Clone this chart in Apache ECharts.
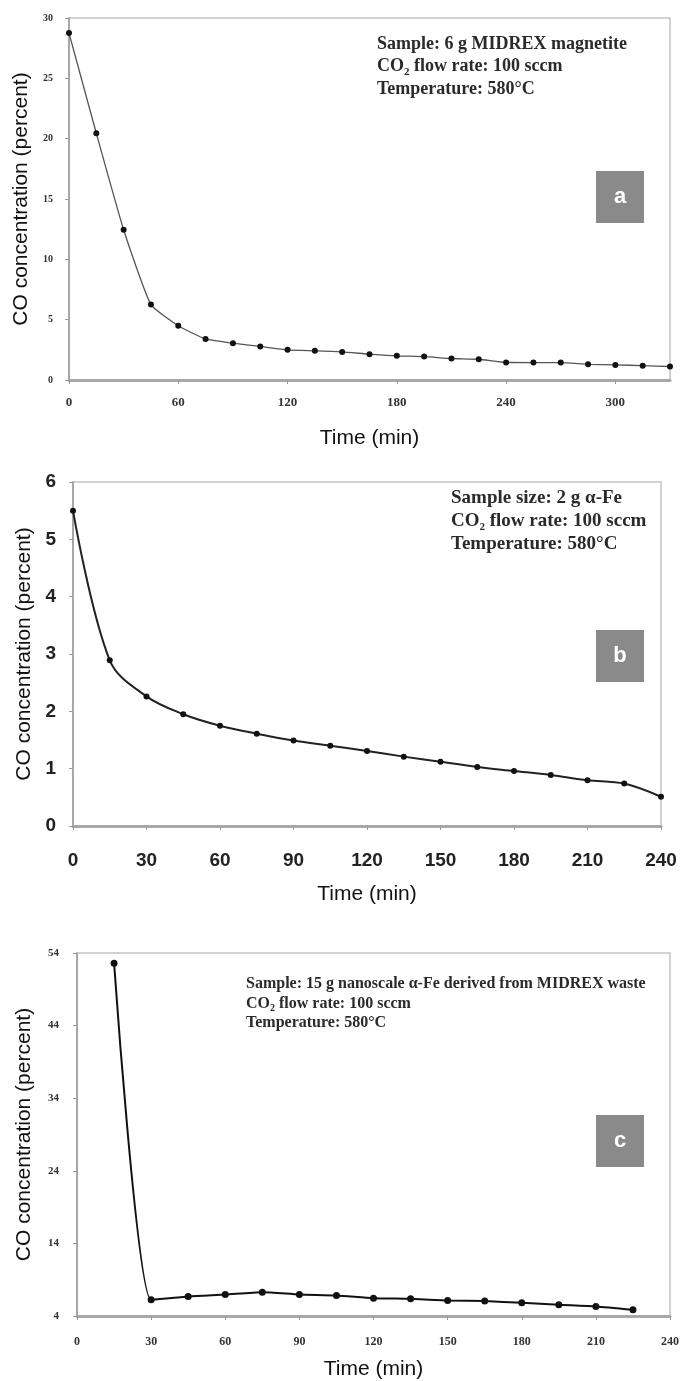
<!DOCTYPE html>
<html>
<head>
<meta charset="utf-8">
<title>CO concentration vs time</title>
<script src="https://cdn.jsdelivr.net/npm/echarts@6/dist/echarts.min.js"></script>
<style>
  html, body { margin: 0; padding: 0; background: #fff; }
  #chart { width: 684px; height: 1381px; }
</style>
</head>
<body>
<div id="chart"></div>
<script>
// panel a: 6 g MIDREX magnetite
const timeA = [0, 15, 30, 45, 60, 75, 90, 105, 120, 135, 150, 165, 180, 195, 210, 225, 240, 255, 270, 285, 300, 315, 330]
const coA = [28.75, 20.45, 12.45, 6.25, 4.5, 3.4, 3.05, 2.78, 2.5, 2.42, 2.33, 2.14, 2.0, 1.94, 1.78, 1.72, 1.45, 1.44, 1.44, 1.3, 1.25, 1.19, 1.12]

// panel b: 2 g alpha-Fe
const timeB = [0, 15, 30, 45, 60, 75, 90, 105, 120, 135, 150, 165, 180, 195, 210, 225, 240]
const coB = [5.5, 2.89, 2.26, 1.95, 1.75, 1.61, 1.49, 1.4, 1.31, 1.21, 1.12, 1.03, 0.96, 0.89, 0.8, 0.74, 0.51]

// panel c: 15 g nanoscale alpha-Fe
const timeC = [15, 30, 45, 60, 75, 90, 105, 120, 135, 150, 165, 180, 195, 210, 225]
const coC = [52.6, 6.23, 6.69, 6.96, 7.28, 6.96, 6.83, 6.46, 6.37, 6.14, 6.05, 5.82, 5.55, 5.32, 4.86]

const notesA = ['Sample: 6 g MIDREX magnetite', 'CO|2| flow rate: 100 sccm', 'Temperature: 580°C']
const notesB = ['Sample size: 2 g α-Fe', 'CO|2| flow rate: 100 sccm', 'Temperature: 580°C']
const notesC = ['Sample: 15 g nanoscale α-Fe derived from MIDREX waste', 'CO|2| flow rate: 100 sccm', 'Temperature: 580°C']

const sans = 'Liberation Sans, Arial, sans-serif'
const serif = 'Liberation Serif, Times New Roman, serif'

const pairs = (xs, ys) => xs.map((x, i) => [x, ys[i]])

// turn "CO|2| flow" into rich text with a subscript
const richLine = (s) => {
  const parts = s.split('|')
  if (parts.length === 1) return '{n|' + s + '}'
  return '{n|' + parts[0] + '}{s|' + parts[1] + '}{n|' + parts[2] + '}'
}

const noteText = (lines, x, y, size, lh) => ({
  type: 'text',
  left: x,
  top: y,
  style: {
    text: lines.map(richLine).join('\n'),
    rich: {
      n: { fontFamily: serif, fontWeight: 'bold', fontSize: size, lineHeight: lh, fill: '#2a2a2a' },
      s: { fontFamily: serif, fontWeight: 'bold', fontSize: Math.round(size * 0.6), lineHeight: lh, fill: '#2a2a2a', verticalAlign: 'bottom', padding: [Math.round(size * 0.45), 0, 0, 0] },
    },
  },
})

const tagBox = (letter, x, y) => ({
  type: 'group',
  left: x,
  top: y,
  children: [
    { type: 'rect', shape: { x: 0, y: 0, width: 48, height: 52 }, style: { fill: '#8a8a8a' } },
    {
      type: 'text', x: 24, y: 26,
      style: { text: letter, fill: '#fff', fontFamily: sans, fontWeight: 'bold', fontSize: 22, align: 'center', verticalAlign: 'middle' },
    },
  ],
})

const xAxisBase = (labelStyle, nameGap) => ({
  type: 'value',
  name: 'Time (min)',
  nameLocation: 'middle',
  nameGap: nameGap,
  nameTextStyle: { fontFamily: sans, fontSize: 21, color: '#111' },
  axisLine: { lineStyle: { color: '#a8a8a8', width: 3 } },
  axisTick: { show: true, inside: false, length: 4, lineStyle: { color: '#999' } },
  splitLine: { show: false },
  axisLabel: labelStyle,
})

const yAxisBase = (labelStyle, nameGap) => ({
  type: 'value',
  name: 'CO concentration (percent)',
  nameLocation: 'middle',
  nameGap: nameGap,
  nameTextStyle: { fontFamily: sans, fontSize: 21, color: '#111' },
  axisLine: { show: true, lineStyle: { color: '#999', width: 1.5 } },
  axisTick: { show: true, inside: false, length: 4, lineStyle: { color: '#999' } },
  splitLine: { show: false },
  axisLabel: labelStyle,
})

const smallSerif = (size, margin) => ({ fontFamily: serif, fontWeight: 'bold', fontSize: size, color: '#333', margin: margin })
const bigSans = (margin) => ({ fontFamily: sans, fontWeight: 'bold', fontSize: 19, color: '#222', margin: margin })

const seriesOf = (idx, xs, ys, opts) => ({
  type: 'line',
  xAxisIndex: idx,
  yAxisIndex: idx,
  data: pairs(xs, ys),
  symbol: 'circle',
  symbolSize: opts.size,
  smooth: opts.smooth,
  itemStyle: { color: '#111' },
  lineStyle: { color: opts.color, width: opts.width },
  animation: false,
  z: 3,
})

const frame = { show: true, borderColor: '#c4c4c4', borderWidth: 1.5, backgroundColor: 'transparent' }

const chart = echarts.init(document.getElementById('chart'))
chart.setOption({
  backgroundColor: '#fff',
  animation: false,
  grid: [
    { left: 69, top: 18, width: 601, height: 362, ...frame },
    { left: 73, top: 482, width: 588, height: 344, ...frame },
    { left: 77, top: 953, width: 593, height: 366, ...frame },
  ],
  xAxis: [
    { ...xAxisBase({ ...smallSerif(13, 16), showMaxLabel: false }, 48), gridIndex: 0, min: 0, max: 330, interval: 60 },
    { ...xAxisBase(bigSans(25), 58), gridIndex: 1, min: 0, max: 240, interval: 30 },
    { ...xAxisBase(smallSerif(12, 20), 43), gridIndex: 2, min: 0, max: 240, interval: 30 },
  ],
  yAxis: [
    { ...yAxisBase(smallSerif(10, 16), 36), gridIndex: 0, min: 0, max: 30, interval: 5 },
    { ...yAxisBase(bigSans(17), 37), gridIndex: 1, min: 0, max: 6, interval: 1 },
    { ...yAxisBase(smallSerif(11, 18), 42), gridIndex: 2, min: 4, max: 54, interval: 10 },
  ],
  series: [
    seriesOf(0, timeA, coA, { size: 6, smooth: 0.15, color: '#555', width: 1.3 }),
    seriesOf(1, timeB, coB, { size: 6, smooth: 0.35, color: '#222', width: 2 }),
    seriesOf(2, timeC, coC, { size: 7, smooth: 0.2, color: '#111', width: 2 }),
  ],
  graphic: [
    noteText(notesA, 377, 35, 18, 22.5),
    noteText(notesB, 451, 489, 19, 23),
    noteText(notesC, 246, 976, 16, 19.5),
    tagBox('a', 596, 171),
    tagBox('b', 596, 630),
    tagBox('c', 596, 1115),
  ],
})
</script>
</body>
</html>
